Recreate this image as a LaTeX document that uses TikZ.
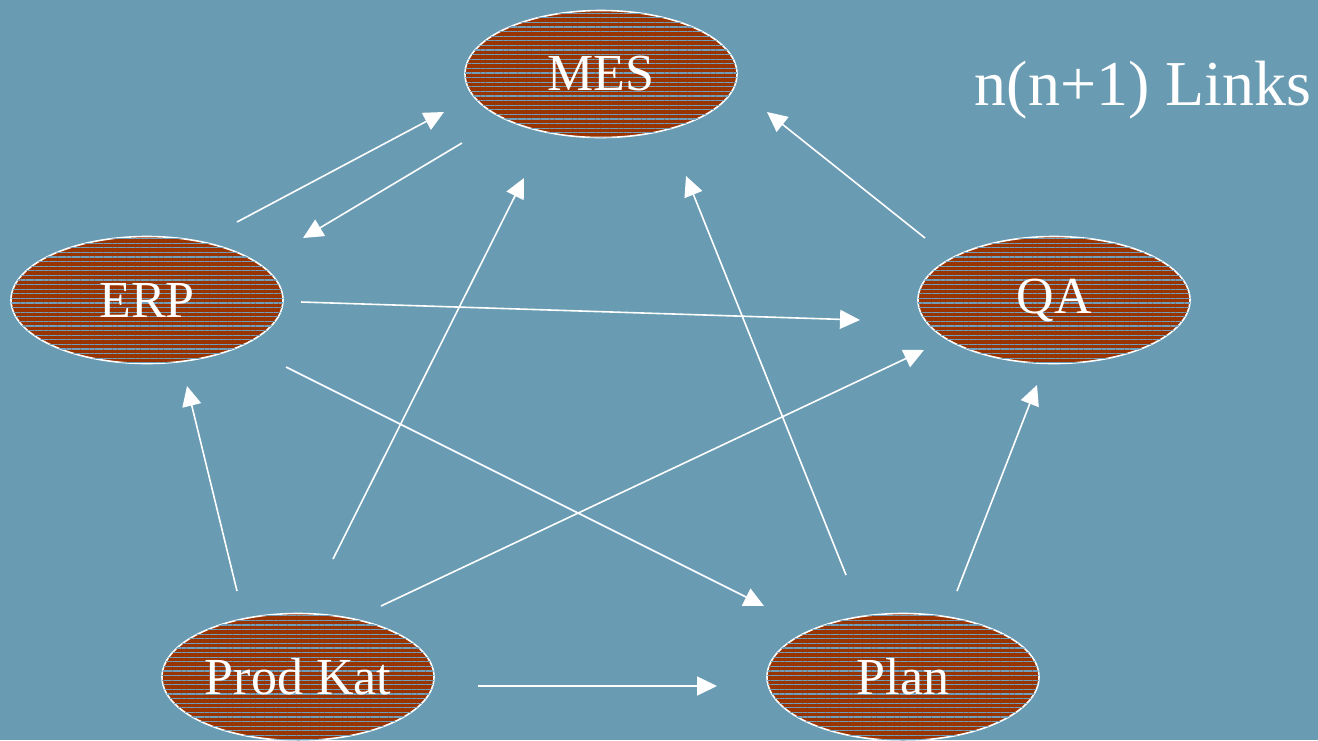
\documentclass[tikz,border=0pt]{standalone}
\usepackage{fontspec}
\setmainfont{Liberation Serif}
\usetikzlibrary{arrows.meta,patterns.meta,shapes.geometric}
\definecolor{bg}{RGB}{105,155,179}
\definecolor{brick}{RGB}{153,51,0}
\definecolor{stripe}{RGB}{110,160,190}
\tikzset{
  sys/.style={ellipse, draw=white, line width=1.6pt, fill=brick,
    postaction={pattern={Lines[angle=0,distance=4.6pt,line width=1.2pt]}, pattern color=stripe},
    minimum width=272pt, minimum height=127pt, inner sep=0pt,
    text=white, font=\fontsize{52}{60}\selectfont},
  link/.style={draw=white, line width=1.6pt, -{Triangle[length=20pt,width=19pt]}},
  title/.style={text=white, font=\fontsize{64}{72}\selectfont, inner sep=0pt}
}
\begin{document}
\begin{tikzpicture}[x=1pt,y=-1pt]
\fill[bg] (0,0) rectangle (1318,740);
\useasboundingbox (0,0) rectangle (1318,740);
\node[sys] (mes) at (601,74) {MES};
\node[sys] (erp) at (147,300) {ERP};
\node[sys] (qa) at (1054,300) {QA};
\node[sys] (prod) at (298,677) {Prod Kat};
\node[sys] (plan) at (903,677) {Plan};
\node[title, anchor=base] (lbl) at (1143,105) {n(n+1) Links};
% connector endpoints
\coordinate (erpA) at (237,222);  \coordinate (mesA) at (444,112);
\coordinate (mesB) at (462,143);  \coordinate (erpB) at (303,238);
\coordinate (erpC) at (301,302);  \coordinate (qaC) at (860,320);
\coordinate (erpD) at (286,367);  \coordinate (planD) at (764,606);
\coordinate (prodE) at (237,591); \coordinate (erpE) at (187,386);
\coordinate (prodF) at (333,559); \coordinate (mesF) at (524,178);
\coordinate (prodG) at (381,606); \coordinate (qaG) at (924,350);
\coordinate (prodH) at (478,686); \coordinate (planH) at (717,686);
\coordinate (planI) at (846,575); \coordinate (mesI) at (686,176);
\coordinate (planJ) at (957,591); \coordinate (qaJ) at (1037,385);
\coordinate (qaK) at (925,238);   \coordinate (mesK) at (767,112);
\draw[link] (erpA) -- (mesA);
\draw[link] (mesB) -- (erpB);
\draw[link] (erpC) -- (qaC);
\draw[link] (erpD) -- (planD);
\draw[link] (prodE) -- (erpE);
\draw[link] (prodF) -- (mesF);
\draw[link] (prodG) -- (qaG);
\draw[link] (prodH) -- (planH);
\draw[link] (planI) -- (mesI);
\draw[link] (planJ) -- (qaJ);
\draw[link] (qaK) -- (mesK);
\end{tikzpicture}
\end{document}
